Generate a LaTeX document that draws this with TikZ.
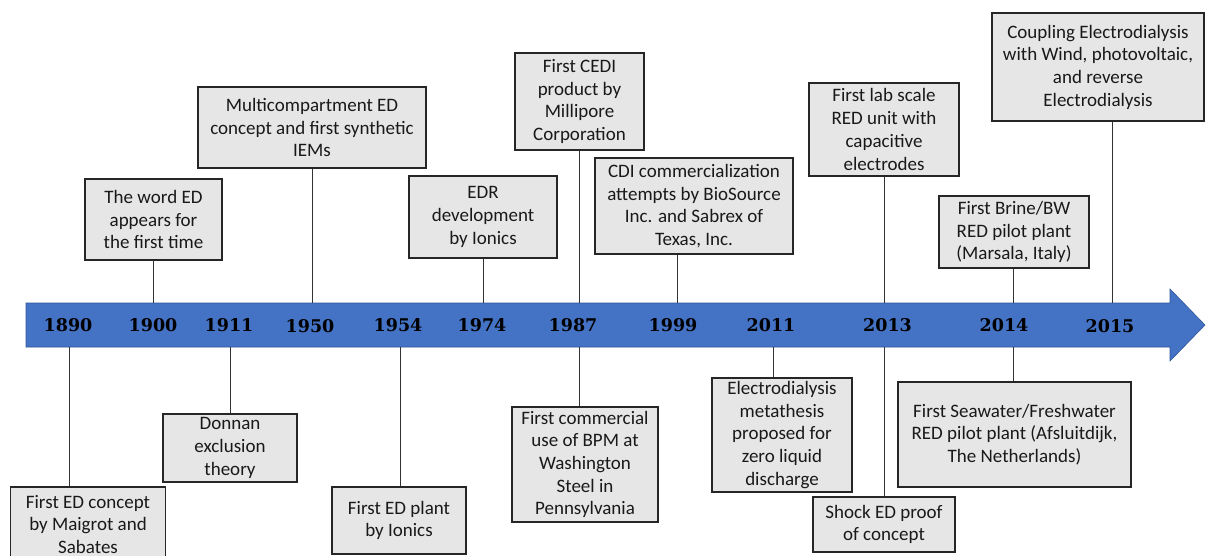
\documentclass[tikz,border=0pt]{standalone}
\usepackage{fontspec}
\setmainfont{Carlito}
\newfontfamily\yeardigits{DejaVu Serif}
\definecolor{axisblue}{HTML}{4472C4}
\definecolor{axisedge}{HTML}{2F5597}
\definecolor{boxgray}{HTML}{E7E6E6}
\newcommand\evfont{\fontsize{19}{22.7}\selectfont}
\newcommand\yrfont{\yeardigits\bfseries\fontsize{17.5}{20}\selectfont}
\begin{document}
\begin{tikzpicture}[x=1pt,y=-1pt,
  evbox/.style={draw=black!85, line width=1.1pt, fill=boxgray, inner sep=0pt, align=center, font=\evfont, text=black!90},
  yr/.style={font=\yrfont, inner sep=0pt, text=black},
  link/.style={draw=black!80, line width=0.9pt}]
\useasboundingbox (0,0) rectangle (1206,556);

% axis arrow
\path[fill=axisblue, draw=axisedge, line width=0.6pt]
  (26,303) -- (1170,303) -- (1170,289) -- (1205,325) -- (1170,361) -- (1170,347) -- (26,347) -- cycle;

% years
\node[yr] (y1890) at (68,325) {1890};
\node[yr] (y1900) at (153,325) {1900};
\node[yr] (y1911) at (229,325) {1911};
\node[yr] (y1950) at (310,326.5) {1950};
\node[yr] (y1954) at (398,325) {1954};
\node[yr] (y1974) at (482,325) {1974};
\node[yr] (y1987) at (573,325) {1987};
\node[yr] (y1999) at (673,325) {1999};
\node[yr] (y2011) at (771,325) {2011};
\node[yr] (y2013) at (887.5,325) {2013};
\node[yr] (y2014) at (1004,325) {2014};
\node[yr] (y2015) at (1110,326.5) {2015};

% tick anchor points on the axis
\coordinate (a1900) at (153,303);
\coordinate (a1950) at (312,303);
\coordinate (a1974) at (483,303);
\coordinate (a1987) at (579,303);
\coordinate (a1999) at (677,303);
\coordinate (a2013) at (884,303);
\coordinate (a2014) at (1013,303);
\coordinate (a2015) at (1112,303);
\coordinate (b1890) at (69,347);
\coordinate (b1911) at (230,347);
\coordinate (b1954) at (400,347);
\coordinate (b1987) at (579,347);
\coordinate (b2011) at (773,347);
\coordinate (b2013) at (884,347);
\coordinate (b2014) at (1013,347);

% boxes above
\node[evbox, minimum width=137pt, minimum height=81pt] (wordED) at (153.5,219.5) {The word ED\\appears for\\the first time};
\node[evbox, minimum width=228pt, minimum height=81pt] (multi) at (312,127.5) {Multicompartment ED\\concept and first synthetic\\IEMs};
\node[evbox, minimum width=148pt, minimum height=82pt] (edr) at (483,217) {EDR\\development\\by Ionics};
\node[evbox, minimum width=129pt, minimum height=97pt] (cedi) at (579.5,101.5) {First CEDI\\product by\\Millipore\\Corporation};
\node[evbox, minimum width=198pt, minimum height=96pt] (cdi) at (694,206) {CDI commercialization\\attempts by BioSource\\Inc. and Sabrex of\\Texas, Inc.};
\node[evbox, minimum width=150pt, minimum height=93pt] (lab) at (884,129.5) {First lab scale\\RED unit with\\capacitive\\electrodes};
\node[evbox, minimum width=150pt, minimum height=72pt] (brine) at (1014,232) {First Brine/BW\\RED pilot plant\\(Marsala, Italy)};
\node[evbox, minimum width=212pt, minimum height=108pt] (coupling) at (1098,67) {Coupling Electrodialysis\\with Wind, photovoltaic,\\and reverse\\Electrodialysis};

% boxes below
\node[evbox, minimum width=155pt, minimum height=75pt] (maigrot) at (88,524.5) {First ED concept\\by Maigrot and\\Sabates};
\node[evbox, minimum width=134pt, minimum height=68pt] (donnan) at (230,448) {Donnan\\exclusion\\theory};
\node[evbox, minimum width=134pt, minimum height=67pt] (plant) at (399,520.5) {First ED plant\\by Ionics};
\node[evbox, minimum width=146pt, minimum height=115pt] (bpm) at (585,464.5) {First commercial\\use of BPM at\\Washington\\Steel in\\Pennsylvania};
\node[evbox, minimum width=140pt, minimum height=114pt] (meta) at (782,435) {Electrodialysis\\metathesis\\proposed for\\zero liquid\\discharge};
\node[evbox, minimum width=142pt, minimum height=55pt] (shock) at (884,524.5) {Shock ED proof\\of concept};
\node[evbox, minimum width=233pt, minimum height=105pt] (sea) at (1014.5,434.5) {First Seawater/Freshwater\\RED pilot plant (Afsluitdijk,\\The Netherlands)};

% connectors
\draw[link] (a1900) -- (wordED.south -| a1900);
\draw[link] (a1950) -- (multi.south -| a1950);
\draw[link] (a1974) -- (edr.south -| a1974);
\draw[link] (a1987) -- (cedi.south -| a1987);
\draw[link] (a1999) -- (cdi.south -| a1999);
\draw[link] (a2013) -- (lab.south -| a2013);
\draw[link] (a2014) -- (brine.south -| a2014);
\draw[link] (a2015) -- (coupling.south -| a2015);
\draw[link] (b1890) -- (maigrot.north -| b1890);
\draw[link] (b1911) -- (donnan.north -| b1911);
\draw[link] (b1954) -- (plant.north -| b1954);
\draw[link] (b1987) -- (bpm.north -| b1987);
\draw[link] (b2011) -- (meta.north -| b2011);
\draw[link] (b2013) -- (shock.north -| b2013);
\draw[link] (b2014) -- (sea.north -| b2014);
\end{tikzpicture}
\end{document}
